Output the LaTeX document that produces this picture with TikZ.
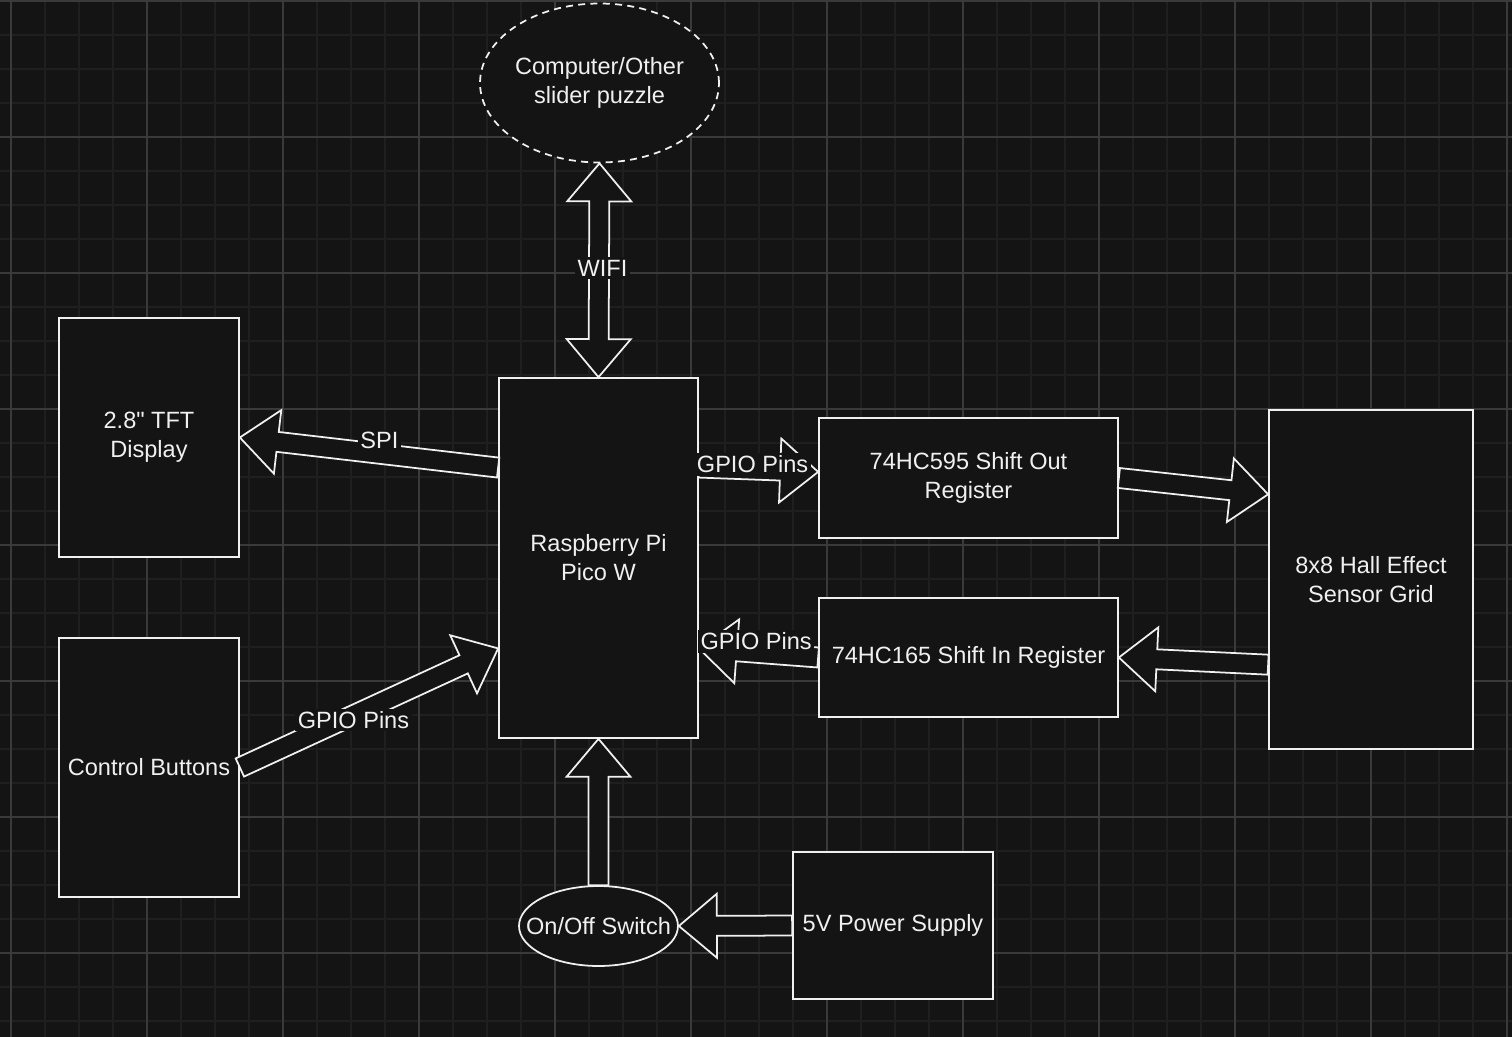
\documentclass[tikz,border=0pt]{standalone}
\usepackage{fontspec}
\setmainfont{Liberation Sans}
\usetikzlibrary{calc, shapes.geometric}

\definecolor{bgcol}{RGB}{20,20,20}
\definecolor{minorcol}{RGB}{31,31,31}
\definecolor{majorcol}{RGB}{58,58,58}
\definecolor{fgcol}{RGB}{240,240,240}

% hollow block arrows: shaft half width, head half width, head length
\newcommand{\shaftw}{0.2cm}
\newcommand{\headw}{0.64cm}
\newcommand{\headl}{0.76cm}
\newcommand{\fatarrow}[2]{%
  \coordinate (hb) at ($(#2)!\headl!(#1)$);
  \draw[flex] ($(#1)!\shaftw!90:(#2)$) -- ($(hb)!\shaftw!90:(#2)$) -- ($(hb)!\headw!90:(#2)$) -- (#2)
    -- ($(hb)!\headw!-90:(#2)$) -- ($(hb)!\shaftw!-90:(#2)$) -- ($(#1)!\shaftw!-90:(#2)$) -- cycle;}
\newcommand{\fatarrowboth}[2]{%
  \coordinate (ha) at ($(#1)!\headl!(#2)$);
  \coordinate (hb) at ($(#2)!\headl!(#1)$);
  \draw[flex] (#1) -- ($(ha)!\headw!90:(#2)$) -- ($(ha)!\shaftw!90:(#2)$) -- ($(hb)!\shaftw!90:(#2)$)
    -- ($(hb)!\headw!90:(#2)$) -- (#2) -- ($(hb)!\headw!-90:(#2)$) -- ($(hb)!\shaftw!-90:(#2)$)
    -- ($(ha)!\shaftw!-90:(#2)$) -- ($(ha)!\headw!-90:(#2)$) -- cycle;}

\begin{document}
\begin{tikzpicture}[x=0.02cm, y=-0.02cm,
    txt/.style={text=fgcol, font=\fontsize{13.4}{16.5}\selectfont},
    blk/.style={txt, draw=fgcol, fill=bgcol, line width=1pt, inner sep=1pt, align=center},
    oval/.style={blk, ellipse, inner sep=0pt},
    flex/.style={draw=fgcol, fill=bgcol, line width=1pt},
    lbl/.style={txt, fill=bgcol, inner sep=1.5pt},
    minorgrid/.style={minorcol, line width=0.6pt},
    majorgrid/.style={majorcol, line width=0.6pt}
  ]

  % background and grid
  \fill[bgcol] (0,0) rectangle (1512,1037);
  \useasboundingbox (0,0) rectangle (1512,1037);
  \foreach \gx in {11,45,...,1507} \draw[minorgrid] (\gx,0) -- (\gx,1037);
  \foreach \gy in {1,35,...,1021} \draw[minorgrid] (0,\gy) -- (1512,\gy);
  \foreach \gx in {11,147,...,1507} \draw[majorgrid] (\gx,0) -- (\gx,1037);
  \foreach \gy in {1,137,...,953} \draw[majorgrid] (0,\gy) -- (1512,\gy);

  % blocks
  \node[oval, dashed, dash pattern=on 4pt off 3pt, minimum width=4.78cm, minimum height=3.18cm] (comp) at (599.5,83) {Computer/Other\\slider puzzle};
  \node[blk, minimum width=3.6cm, minimum height=4.78cm] (tft) at (149,437.5) {2.8\textquotedbl{} TFT\\Display};
  \node[blk, minimum width=3.6cm, minimum height=5.18cm] (btns) at (149,767.5) {Control Buttons};
  \node[blk, minimum width=3.98cm, minimum height=7.2cm] (pico) at (598.5,558) {Raspberry Pi\\Pico W};
  \node[blk, minimum width=5.98cm, minimum height=2.4cm] (sr595) at (968.5,478) {74HC595 Shift Out\\Register};
  \node[blk, minimum width=5.98cm, minimum height=2.38cm] (sr165) at (968.5,657.5) {74HC165 Shift In Register};
  \node[blk, minimum width=4.08cm, minimum height=6.78cm] (hall) at (1371,579.5) {8x8 Hall Effect\\Sensor Grid};
  \node[oval, minimum width=3.18cm, minimum height=1.6cm] (switch) at (598.5,926) {\makebox[0pt]{On/Off Switch}};
  \node[blk, minimum width=4cm, minimum height=2.94cm] (psu) at (893,925.5) {5V Power Supply};

  % arrow ends on the block sides
  \coordinate (picoW1) at ($(pico.north west)!0.25!(pico.south west)$);
  \coordinate (picoW3) at ($(pico.north west)!0.75!(pico.south west)$);
  \coordinate (picoE1) at ($(pico.north east)!0.25!(pico.south east)$);
  \coordinate (picoE3) at ($(pico.north east)!0.75!(pico.south east)$);
  \coordinate (sr595W) at ($(sr595.north west)!0.45!(sr595.south west)$);
  \coordinate (hallW1) at ($(hall.north west)!0.25!(hall.south west)$);
  \coordinate (hallW3) at ($(hall.north west)!0.75!(hall.south west)$);

  % links
  \fatarrowboth{pico.north}{comp.south}
  \fatarrow{picoW1}{tft.east}
  \fatarrow{btns.east}{picoW3}
  \fatarrow{picoE1}{sr595W}
  \fatarrow{sr165.west}{picoE3}
  \fatarrow{sr595.east}{hallW1}
  \fatarrow{hallW3}{sr165.east}
  \fatarrow{switch.north}{pico.south}
  \fatarrow{psu.west}{switch.east}

  % link labels
  \path (pico.north) -- (comp.south) node[lbl, pos=0.51, xshift=0.07cm] {WIFI};
  \path (picoW1) -- (tft.east) node[lbl, pos=0.46, yshift=0.26cm] {SPI};
  \path (btns.east) -- (picoW3) node[lbl, pos=0.44, yshift=-0.1cm] {GPIO Pins};
  \path (picoE1) -- (sr595W) node[lbl, pos=0.45, yshift=0.1cm] {GPIO Pins};
  \path (sr165.west) -- (picoE3) node[lbl, pos=0.52, yshift=0.23cm] {GPIO Pins};

\end{tikzpicture}
\end{document}
